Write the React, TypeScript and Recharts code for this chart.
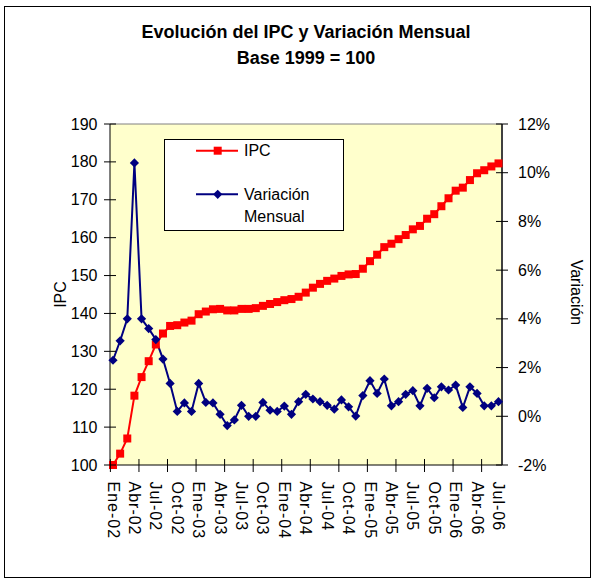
import React from 'react';
import { LineChart, Line, XAxis, YAxis, Legend, ReferenceLine, CartesianGrid } from 'recharts';

const categories = [
  'Ene-02','Feb-02','Mar-02','Abr-02','May-02','Jun-02','Jul-02','Ago-02','Sep-02','Oct-02','Nov-02','Dic-02',
  'Ene-03','Feb-03','Mar-03','Abr-03','May-03','Jun-03','Jul-03','Ago-03','Sep-03','Oct-03','Nov-03','Dic-03',
  'Ene-04','Feb-04','Mar-04','Abr-04','May-04','Jun-04','Jul-04','Ago-04','Sep-04','Oct-04','Nov-04','Dic-04',
  'Ene-05','Feb-05','Mar-05','Abr-05','May-05','Jun-05','Jul-05','Ago-05','Sep-05','Oct-05','Nov-05','Dic-05',
  'Ene-06','Feb-06','Mar-06','Abr-06','May-06','Jun-06','Jul-06',
];

const ipcValues = [
  100, 103, 107, 118.3, 123.2, 127.4, 131.8, 134.7, 136.7, 136.9, 137.6, 138.1,
  139.8, 140.5, 141.1, 141.2, 140.8, 140.8, 141.2, 141.2, 141.4, 142.0, 142.5, 143.0,
  143.5, 143.8, 144.4, 145.5, 146.8, 147.8, 148.6, 149.2, 149.9, 150.3, 150.4, 151.8,
  153.8, 155.5, 157.5, 158.4, 159.6, 160.7, 162.2, 163.1, 165.0, 166.2, 168.3, 170.4,
  172.4, 173.2, 175.2, 177.0, 177.8, 178.8, 179.6,
];

const variacionValues = [
  2.3, 3.1, 4.0, 10.4, 4.0, 3.6, 3.15, 2.35, 1.35, 0.2, 0.55, 0.2,
  1.35, 0.57, 0.55, 0.08, -0.38, -0.15, 0.45, 0.0, 0.0, 0.57, 0.25, 0.2,
  0.42, 0.08, 0.6, 0.9, 0.71, 0.6, 0.45, 0.29, 0.67, 0.39, 0.01, 0.85,
  1.46, 0.94, 1.53, 0.43, 0.6, 0.9, 1.05, 0.43, 1.15, 0.76, 1.21, 1.08,
  1.28, 0.36, 1.21, 0.94, 0.43, 0.43, 0.6,
];

const ipcTicks = [100, 110, 120, 130, 140, 150, 160, 170, 180, 190];
const variacionTicks = [-2, 0, 2, 4, 6, 8, 10, 12];

const title1 = 'Evolución del IPC y Variación Mensual';
const title2 = 'Base 1999 = 100';
const seriesNames = { ipc: 'IPC', variacion1: 'Variación', variacion2: 'Mensual' };

const data = categories.map((mes, i) => ({ mes, ipc: ipcValues[i], variacion: variacionValues[i] }));

const FONT = '"Liberation Sans", Arial, sans-serif';
const RED = '#FF0000';
const NAVY = '#000080';

const SquareDot = (props: any) => {
  const { cx, cy, index } = props;
  if (cx == null || cy == null) return <g key={`sq${index}`} />;
  return <rect key={`sq${index}`} x={cx - 4} y={cy - 4} width={8} height={8} fill={RED} />;
};

const DiamondDot = (props: any) => {
  const { cx, cy, index } = props;
  if (cx == null || cy == null) return <g key={`dm${index}`} />;
  const r = 4.6;
  return (
    <polygon
      key={`dm${index}`}
      points={`${cx},${cy - r} ${cx + r},${cy} ${cx},${cy + r} ${cx - r},${cy}`}
      fill={NAVY}
    />
  );
};

const XTick = (props: any) => {
  const { x, y, payload, index } = props;
  const ty = y + 16.5;
  return (
    <g>
      {index % 4 === 0 && (
        <line x1={x - 2.6} x2={x - 2.6} y1={y - 6} y2={y + 7} stroke="#000" strokeWidth={1} />
      )}
      {index % 3 === 0 && (
        <text
          x={x}
          y={ty}
          transform={`rotate(90 ${x} ${ty})`}
          textAnchor="start"
          dominantBaseline="central"
          fontFamily={FONT}
          fontSize={16}
          letterSpacing={1}
          fill="#000"
        >
          {payload.value}
        </text>
      )}
    </g>
  );
};

const LeftTick = (props: any) => {
  const { x, y, payload } = props;
  return (
    <g>
      <line x1={x - 6} x2={x + 6} y1={y} y2={y} stroke="#000" strokeWidth={1} />
      <text x={x - 12.5} y={y} textAnchor="end" dominantBaseline="central" fontFamily={FONT} fontSize={16} fill="#000">
        {payload.value}
      </text>
    </g>
  );
};

const RightTick = (props: any) => {
  const { x, y, payload } = props;
  return (
    <g>
      <line x1={x - 6} x2={x + 6} y1={y} y2={y} stroke="#000" strokeWidth={1} />
      <text x={x + 16} y={y} textAnchor="start" dominantBaseline="central" fontFamily={FONT} fontSize={16} fill="#000">
        {`${payload.value}%`}
      </text>
    </g>
  );
};

const LegendBox = () => (
  <div
    style={{
      width: 180,
      height: 92,
      border: '1px solid #000',
      background: '#fff',
      boxSizing: 'border-box',
      position: 'relative',
    }}
  >
    <svg width={178} height={90} style={{ position: 'absolute', left: 0, top: 0 }}>
      <line x1={31} x2={73} y1={10.7} y2={10.7} stroke={RED} strokeWidth={2} />
      <rect x={48.7} y={6.7} width={8} height={8} fill={RED} />
      <text x={79} y={10.7} dominantBaseline="central" fontFamily={FONT} fontSize={16} fill="#000">
        {seriesNames.ipc}
      </text>
      <line x1={31} x2={73} y1={54.3} y2={54.3} stroke={NAVY} strokeWidth={2} />
      <polygon points="52.7,49.7 57.3,54.3 52.7,58.9 48.1,54.3" fill={NAVY} />
      <text x={79} y={54} dominantBaseline="central" fontFamily={FONT} fontSize={16} fill="#000">
        {seriesNames.variacion1}
      </text>
      <text x={79} y={76} dominantBaseline="central" fontFamily={FONT} fontSize={16} fill="#000">
        {seriesNames.variacion2}
      </text>
    </svg>
  </div>
);

const LeftLabel = (props: any) => {
  const { viewBox } = props;
  const cx = viewBox.x + 10;
  const cy = viewBox.y + viewBox.height / 2;
  return (
    <text x={cx} y={cy} transform={`rotate(-90 ${cx} ${cy})`} textAnchor="middle" dominantBaseline="central" fontFamily={FONT} fontSize={16} fill="#000">
      IPC
    </text>
  );
};

const RightLabel = (props: any) => {
  const { viewBox } = props;
  const cx = viewBox.x + 74;
  const cy = viewBox.y + viewBox.height / 2 - 2;
  return (
    <text x={cx} y={cy} transform={`rotate(90 ${cx} ${cy})`} textAnchor="middle" dominantBaseline="central" fontFamily={FONT} fontSize={16} fill="#000">
      Variación
    </text>
  );
};

export default function App() {
  return (
    <div style={{ position: 'absolute', left: 0, top: 0, width: 598, height: 583, background: '#fff', fontFamily: FONT }}>
      <div
        style={{
          position: 'absolute',
          left: 4,
          top: 6,
          width: 587,
          height: 572,
          border: '1px solid #000',
          boxSizing: 'border-box',
        }}
      />
      <div
        style={{
          position: 'absolute',
          left: 306,
          top: 22,
          transform: 'translateX(-50%)',
          whiteSpace: 'nowrap',
          fontWeight: 'bold',
          fontSize: 18,
          lineHeight: '20px',
          color: '#000',
        }}
      >
        {title1}
      </div>
      <div
        style={{
          position: 'absolute',
          left: 306,
          top: 48,
          transform: 'translateX(-50%)',
          whiteSpace: 'nowrap',
          fontWeight: 'bold',
          fontSize: 18,
          lineHeight: '20px',
          color: '#000',
        }}
      >
        {title2}
      </div>
      <div style={{ position: 'absolute', left: 0, top: 0 }}>
        <LineChart width={598} height={583} data={data} margin={{ top: 124, right: 36, bottom: 38, left: 50 }}>
          <CartesianGrid horizontal={false} vertical={false} fill="#FFFFCC" yAxisId="left" />
          <XAxis
            dataKey="mes"
            xAxisId="x"
            interval={0}
            height={80}
            padding={{ left: 3, right: 3.5 }}
            tickSize={0}
            tickMargin={0}
            tickLine={false}
            axisLine={{ stroke: '#000', strokeWidth: 1 }}
            tick={<XTick />}
          />
          <YAxis
            yAxisId="left"
            orientation="left"
            width={60}
            domain={[100, 190]}
            ticks={ipcTicks}
            interval={0}
            tickSize={0}
            tickMargin={0}
            tickLine={false}
            axisLine={{ stroke: '#000', strokeWidth: 1 }}
            tick={<LeftTick />}
            label={{ content: <LeftLabel /> }}
          />
          <YAxis
            yAxisId="right"
            orientation="right"
            width={60}
            domain={[-2, 12]}
            ticks={variacionTicks}
            interval={0}
            tickSize={0}
            tickMargin={0}
            tickLine={false}
            axisLine={{ stroke: '#404040', strokeWidth: 2 }}
            tick={<RightTick />}
            label={{ content: <RightLabel /> }}
          />
          <ReferenceLine yAxisId="left" xAxisId="x" y={190} stroke="#808080" strokeWidth={1} />
          <Line
            xAxisId="x"
            yAxisId="left"
            dataKey="ipc"
            type="linear"
            stroke={RED}
            strokeWidth={2}
            dot={SquareDot}
            activeDot={false}
            isAnimationActive={false}
          />
          <Line
            xAxisId="x"
            yAxisId="right"
            dataKey="variacion"
            type="linear"
            stroke={NAVY}
            strokeWidth={2}
            dot={DiamondDot}
            activeDot={false}
            isAnimationActive={false}
          />
          <Legend
            layout="horizontal"
            verticalAlign="middle"
            align="center"
            wrapperStyle={{ left: 164, top: 139, width: 180, height: 92 }}
            content={() => <LegendBox />}
          />
        </LineChart>
      </div>
    </div>
  );
}
